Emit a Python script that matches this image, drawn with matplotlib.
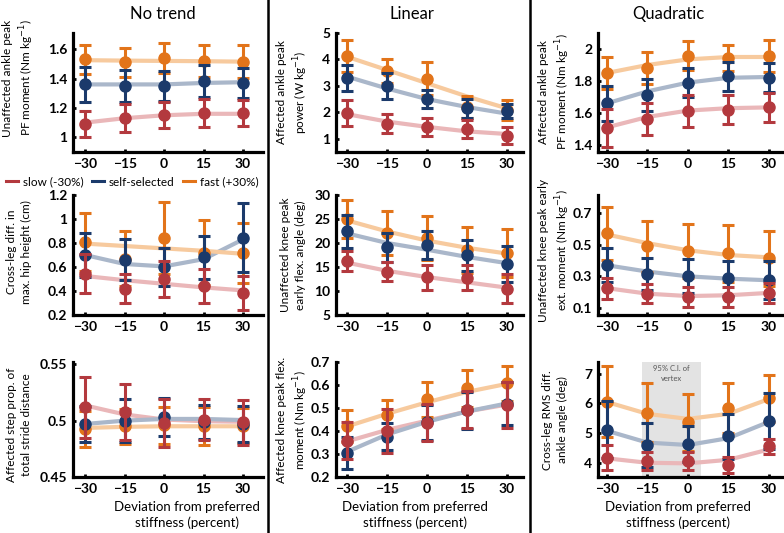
import numpy as np
import matplotlib.pyplot as plt
from matplotlib.lines import Line2D

plt.rcParams['font.family'] = ['Lato', 'DejaVu Sans']

# stiffness deviation (percent)
x = [-30, -15, 0, 15, 30]
speeds = ["slow (-30%)", "self-selected", "fast (+30%)"]

# rows of each array: slow, self-selected, fast
ank_pf_unaff_mean = [[1.09, 1.13, 1.15, 1.165, 1.165],
                     [1.36, 1.35, 1.35, 1.385, 1.37],
                     [1.53, 1.51, 1.54, 1.52, 1.515]]
ank_pf_unaff_err = [[0.09, 0.095, 0.09, 0.095, 0.09],
                    [0.12, 0.11, 0.10, 0.11, 0.10],
                    [0.10, 0.10, 0.10, 0.11, 0.11]]
ank_pf_unaff_fit = [[1.10, 1.13, 1.15, 1.16, 1.16],
                    [1.36, 1.36, 1.36, 1.37, 1.375],
                    [1.525, 1.522, 1.52, 1.518, 1.515]]

ank_pow_aff_mean = [[1.97, 1.57, 1.45, 1.37, 1.12],
                    [3.30, 3.00, 2.50, 2.15, 2.05],
                    [4.13, 3.55, 3.27, 2.20, 2.10]]
ank_pow_aff_err = [[0.48, 0.36, 0.35, 0.35, 0.31],
                   [0.50, 0.50, 0.35, 0.35, 0.27],
                   [0.60, 0.45, 0.62, 0.40, 0.38]]
ank_pow_aff_fit = [[1.93, 1.65, 1.45, 1.28, 1.18],
                   [3.35, 2.90, 2.50, 2.20, 1.95],
                   [4.10, 3.60, 3.10, 2.60, 2.15]]

ank_pf_aff_mean = [[1.505, 1.56, 1.615, 1.62, 1.635],
                   [1.66, 1.71, 1.79, 1.83, 1.82],
                   [1.853, 1.88, 1.958, 1.945, 1.954]]
ank_pf_aff_err = [[0.12, 0.10, 0.10, 0.09, 0.09],
                  [0.11, 0.10, 0.09, 0.09, 0.09],
                  [0.10, 0.10, 0.09, 0.08, 0.10]]
ank_pf_aff_fit = [[1.51, 1.575, 1.615, 1.63, 1.635],
                  [1.66, 1.735, 1.79, 1.82, 1.825],
                  [1.85, 1.90, 1.935, 1.95, 1.95]]

hip_diff_mean = [[0.545, 0.42, 0.50, 0.44, 0.385],
                 [0.70, 0.66, 0.60, 0.68, 0.845],
                 [0.81, 0.67, 0.845, 0.72, 0.72]]
hip_diff_err = [[0.16, 0.12, 0.15, 0.14, 0.14],
                [0.18, 0.17, 0.16, 0.18, 0.29],
                [0.24, 0.23, 0.30, 0.27, 0.25]]
hip_diff_fit = [[0.525, 0.49, 0.46, 0.43, 0.405],
                [0.70, 0.625, 0.605, 0.665, 0.83],
                [0.795, 0.775, 0.755, 0.735, 0.71]]

knee_ang_mean = [[16.3, 14.0, 12.9, 12.8, 10.5],
                 [22.4, 19.1, 19.6, 17.4, 15.6],
                 [25.0, 22.0, 21.0, 18.6, 17.9]]
knee_ang_err = [[2.1, 2.0, 2.6, 2.6, 3.0],
                [3.5, 3.0, 3.0, 3.3, 3.8],
                [4.0, 4.6, 4.6, 4.8, 5.0]]
knee_ang_fit = [[15.9, 14.2, 12.9, 11.8, 10.7],
                [22.0, 20.0, 18.6, 17.1, 15.8],
                [24.7, 22.4, 20.5, 19.0, 17.8]]

knee_ext_mean = [[0.223, 0.19, 0.17, 0.17, 0.196],
                 [0.372, 0.313, 0.302, 0.287, 0.277],
                 [0.572, 0.49, 0.462, 0.447, 0.415]]
knee_ext_err = [[0.065, 0.06, 0.063, 0.063, 0.064],
                [0.105, 0.10, 0.11, 0.11, 0.12],
                [0.17, 0.16, 0.17, 0.18, 0.175]]
knee_ext_fit = [[0.225, 0.19, 0.175, 0.18, 0.195],
                [0.37, 0.33, 0.30, 0.285, 0.275],
                [0.565, 0.51, 0.465, 0.435, 0.42]]

step_prop_mean = [[0.5118, 0.5076, 0.4978, 0.501, 0.4986],
                  [0.497, 0.500, 0.503, 0.4985, 0.497],
                  [0.4927, 0.495, 0.496, 0.495, 0.4955]]
step_prop_err = [[0.027, 0.025, 0.021, 0.018, 0.02],
                 [0.016, 0.019, 0.017, 0.015, 0.016],
                 [0.016, 0.0155, 0.0165, 0.017, 0.0155]]
step_prop_fit = [[0.5135, 0.5055, 0.501, 0.4995, 0.499],
                 [0.497, 0.500, 0.5015, 0.5015, 0.5005],
                 [0.4935, 0.4945, 0.495, 0.495, 0.495]]

knee_flex_mean = [[0.357, 0.40, 0.436, 0.493, 0.515],
                  [0.304, 0.376, 0.437, 0.49, 0.518],
                  [0.421, 0.47, 0.537, 0.585, 0.607]]
knee_flex_err = [[0.08, 0.095, 0.08, 0.08, 0.10],
                 [0.07, 0.06, 0.077, 0.08, 0.093],
                 [0.07, 0.063, 0.078, 0.08, 0.075]]
knee_flex_fit = [[0.355, 0.405, 0.445, 0.485, 0.515],
                 [0.31, 0.385, 0.44, 0.485, 0.52],
                 [0.42, 0.475, 0.525, 0.57, 0.605]]

rms_ank_mean = [[4.17, 4.06, 4.07, 3.92, 4.55],
                [5.12, 4.60, 4.63, 4.89, 5.42],
                [6.06, 5.69, 5.36, 5.85, 6.17]]
rms_ank_err = [[0.42, 0.32, 0.30, 0.28, 0.25],
               [0.97, 0.75, 0.62, 0.75, 0.95],
               [1.2, 1.0, 0.95, 0.85, 0.8]]
rms_ank_fit = [[4.15, 4.00, 3.98, 4.10, 4.45],
               [5.08, 4.68, 4.60, 4.83, 5.38],
               [6.05, 5.65, 5.48, 5.65, 6.15]]

col_titles = ["No trend", "Linear", "Quadratic"]
kg = r"kg$^{-1}$"
ylabels = [
    ["Unaffected ankle peak\nPF moment (Nm " + kg + ")",
     "Affected ankle peak\npower (W " + kg + ")",
     "Affected ankle peak\nPF moment (Nm " + kg + ")"],
    ["Cross-leg diff. in\nmax. hip height (cm)",
     "Unaffected knee peak\nearly flex. angle (deg)",
     "Unaffected knee peak early\next. moment (Nm " + kg + ")"],
    ["Affected step prop. of\ntotal stride distance",
     "Affected knee peak flex.\nmoment (Nm " + kg + ")",
     "Cross-leg RMS diff.\nankle angle (deg)"],
]
panels = [
    [(ank_pf_unaff_mean, ank_pf_unaff_err, ank_pf_unaff_fit),
     (ank_pow_aff_mean, ank_pow_aff_err, ank_pow_aff_fit),
     (ank_pf_aff_mean, ank_pf_aff_err, ank_pf_aff_fit)],
    [(hip_diff_mean, hip_diff_err, hip_diff_fit),
     (knee_ang_mean, knee_ang_err, knee_ang_fit),
     (knee_ext_mean, knee_ext_err, knee_ext_fit)],
    [(step_prop_mean, step_prop_err, step_prop_fit),
     (knee_flex_mean, knee_flex_err, knee_flex_fit),
     (rms_ank_mean, rms_ank_err, rms_ank_fit)],
]
yticks = [
    [[1, 1.2, 1.4, 1.6], [1, 2, 3, 4, 5], [1.4, 1.6, 1.8, 2]],
    [[0.2, 0.4, 0.6, 0.8, 1, 1.2], [5, 10, 15, 20, 25, 30], [0.1, 0.3, 0.5, 0.7]],
    [[0.45, 0.5, 0.55], [0.2, 0.3, 0.4, 0.5, 0.6, 0.7], [4, 5, 6, 7]],
]
ylims = [
    [(0.9, 1.71), (0.5, 5.0), (1.356, 2.1)],
    [(0.2, 1.2), (5, 30), (0.055, 0.815)],
    [(0.45, 0.552), (0.2, 0.7), (3.52, 7.4)],
]

dark = ["#B3393E", "#1B3A6B", "#E2741A"]
light = ["#EAB7B9", "#AAB7CA", "#F7CA9E"]

W, H = 784, 533
fig = plt.figure(figsize=(W / 100, H / 100), dpi=100)

col_left = [73, 336, 598]
col_w = [190, 187, 186]
row_top = [33, 195, 362]
row_bot = [152, 315, 477]
xlims = [(-34.6, 37.6), (-34.2, 36.0), (-33.3, 35.6)]
ylab_cx = [19, 293, 555]
ylab_cy = [[78, 92, 92], [252, 255, 250], [425, 420, 420]]

for r in range(3):
    for c in range(3):
        ax = fig.add_axes([col_left[c] / W, 1 - row_bot[r] / H,
                           col_w[c] / W, (row_bot[r] - row_top[r]) / H])
        mean, err, fit = panels[r][c]
        if r == 2 and c == 2:
            ax.axvspan(-17, 4.8, color="#E3E3E3", lw=0, zorder=0)
            ax.text(-6.1, 7.3, "95% C.I. of\nvertex", ha="center", va="top",
                    fontsize=5.5, color="#555555", linespacing=1.5)
        for i in range(3):
            ax.plot(x, fit[i], color=light[i], lw=3, zorder=1,
                    solid_capstyle="round")
        for i in [2, 1, 0]:
            ax.errorbar(x, mean[i], yerr=err[i], fmt="o", color=dark[i],
                        ms=8, elinewidth=2.2, capsize=4, capthick=2.2,
                        zorder=2 + (2 - i))
        ax.set_xlim(*xlims[c])
        ax.set_ylim(*ylims[r][c])
        ax.set_xticks(x)
        ax.set_yticks(yticks[r][c])
        ax.set_yticklabels(["%g" % v for v in yticks[r][c]])
        for s in ["top", "right"]:
            ax.spines[s].set_visible(False)
        for s in ["left", "bottom"]:
            ax.spines[s].set_linewidth(2.3)
        ax.tick_params(direction="in", length=2.5, width=2, labelsize=10, pad=4)
        for lab in ax.get_xticklabels() + ax.get_yticklabels():
            lab.set_fontweight("bold")
        fig.text(ylab_cx[c] / W, 1 - ylab_cy[r][c] / H, ylabels[r][c], rotation=90,
                 ha="center", va="center", fontsize=8.5, linespacing=1.35)

# column titles
for cx, t in zip([163, 412, 668], col_titles):
    fig.text(cx / W, 1 - 14 / H, t, ha="center", va="center", fontsize=12)

# x labels
for cx in [187, 415, 678]:
    fig.text(cx / W, 1 - 515 / H, "Deviation from preferred\nstiffness (percent)",
             ha="center", va="center", fontsize=9.5, linespacing=1.25)

# column separators
for sx in [268, 530]:
    fig.add_artist(Line2D([sx / W, sx / W], [0, 1], color="black", lw=1.8))

handles = [Line2D([0], [0], color=dark[i], lw=2.2) for i in range(3)]
fig.legend(handles, speeds, loc="center left", bbox_to_anchor=(0.005, 1 - 182 / H),
           ncol=3, frameon=False, fontsize=8.5, handlelength=1.0,
           handletextpad=0.4, columnspacing=0.75, borderaxespad=0, borderpad=0.2)

fig.savefig("out.png", dpi=100)
